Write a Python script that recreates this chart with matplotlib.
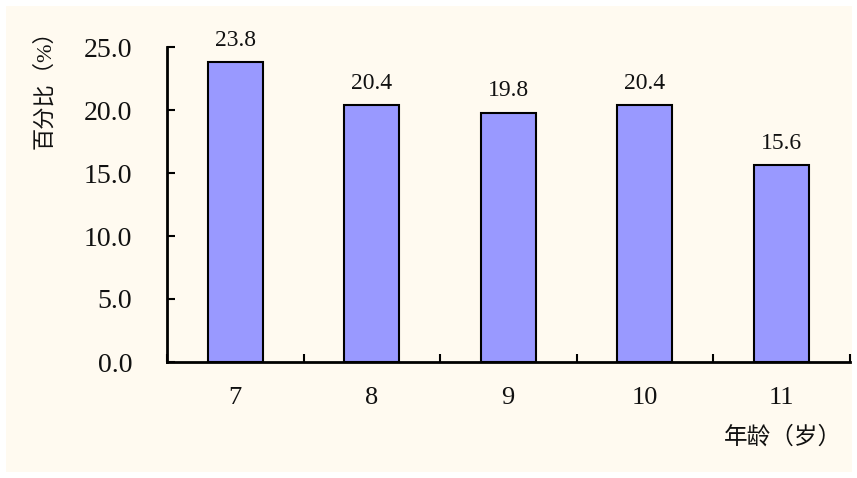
import matplotlib
matplotlib.use("Agg")
import matplotlib.pyplot as plt
from matplotlib.patches import Rectangle

plt.rcParams['font.family'] = ['Liberation Serif', 'Noto Sans CJK SC', 'DejaVu Sans']

ages = ['7', '8', '9', '10', '11']
percents = [23.8, 20.4, 19.8, 20.4, 15.6]
yticks = [0, 5, 10, 15, 20, 25]

W, H = 857, 478
fig = plt.figure(figsize=(W / 100, H / 100), dpi=100, facecolor='white')
# cream panel behind the chart
fig.patches.append(Rectangle((6 / W, 6 / H), 846 / W, 466 / H, transform=fig.transFigure,
                             facecolor='#FFFAF0', edgecolor='none', zorder=-1))

ax = fig.add_axes([167 / W, 1 - 362 / H, 682.5 / W, 315 / H])
ax.patch.set_alpha(0)

x = list(range(len(ages)))
bars = ax.bar(x, percents, width=0.4, color='#9999FF', edgecolor='black', linewidth=1.5, zorder=3)

for xi, v in zip(x, percents):
    ax.annotate(f'{v:.1f}', (xi, v), xytext=(0, 8), textcoords='offset points',
                ha='center', va='bottom', fontsize=17, color='#111111')

ax.set_xlim(-0.5, len(ages) - 0.5)
ax.set_ylim(0, 25)
ax.set_yticks(yticks)
ax.set_yticklabels([f'{t:.1f}' for t in yticks], fontsize=20, color='#111111')
ax.set_xticks(x)
ax.set_xticklabels(ages, fontsize=19, color='#111111')
ax.tick_params(axis='x', length=0, pad=18)
ax.set_xticks([i + 0.5 for i in range(-1, len(ages))], minor=True)
ax.tick_params(axis='x', which='minor', direction='in', length=6, width=1.5)
ax.tick_params(axis='y', direction='in', length=6, width=1.5, pad=25)

for s in ['top', 'right']:
    ax.spines[s].set_visible(False)
for s in ['left', 'bottom']:
    ax.spines[s].set_linewidth(2)

fig.text(45 / W, 1 - 84 / H, '百分比（%）', rotation=90, ha='center', va='center',
         fontsize=16, color='#111111')
fig.text(842 / W, 1 - 437 / H, '年龄（岁）', ha='right', va='center', fontsize=17, color='#111111')

fig.savefig('out.png', dpi=100, facecolor='white')
